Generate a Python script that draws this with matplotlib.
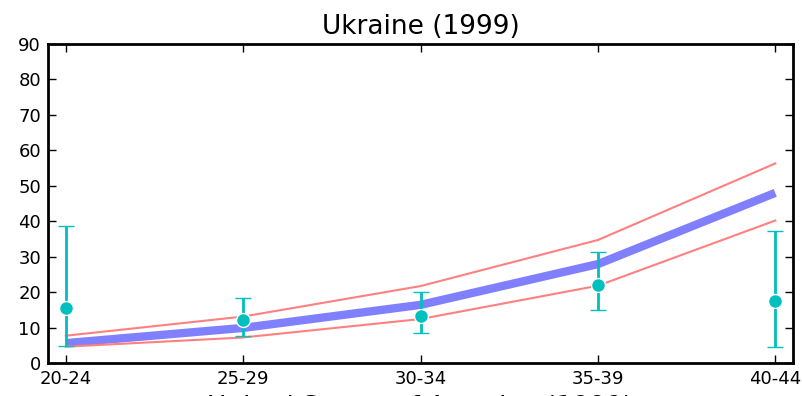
import numpy as np
import matplotlib
matplotlib.use("Agg")
import matplotlib.pyplot as plt

ages = ["20-24", "25-29", "30-34", "35-39", "40-44"]
model = [5.6, 9.9, 16.4, 27.9, 48.0]
model_hi = [7.7, 13.1, 21.7, 34.7, 56.3]
model_lo = [4.6, 7.2, 12.4, 21.8, 40.2]
obs = [15.4, 12.1, 13.3, 22.0, 17.6]
obs_hi = [38.7, 18.4, 20.0, 31.2, 37.3]
obs_lo = [4.8, 7.5, 8.5, 15.0, 4.5]

x = np.arange(len(ages))
obs = np.array(obs)
yerr = [obs - np.array(obs_lo), np.array(obs_hi) - obs]

fig = plt.figure(figsize=(8.03, 3.96), dpi=100)
ax = fig.add_axes([48/803, 1 - 363/396, 745/803, 319/396])

ax.plot(x, model, color='#8080ff', lw=6, solid_capstyle='butt', zorder=2)
ax.plot(x, model_hi, color='#ff8080', lw=1.5, zorder=2)
ax.plot(x, model_lo, color='#ff8080', lw=1.5, zorder=2)
ax.errorbar(x, obs, yerr=yerr, fmt='o', color='#00bfbf', ms=10, mec='white',
            mew=1, elinewidth=2, capsize=6, capthick=2, zorder=3)

ax.set_xlim(-0.1, 4.1)
ax.set_ylim(0, 90)
ax.set_yticks(np.arange(0, 91, 10))
ax.set_xticks(x)
ax.set_xticklabels(ages)
ax.tick_params(direction='in', length=6, width=1, top=True, right=True,
               labelsize=13, pad=5)
for s in ax.spines.values():
    s.set_linewidth(2)
ax.set_title('Ukraine (1999)', fontsize=19, pad=7)
ax.set_xlabel('United States of America (1999)', fontsize=19, labelpad=5)

fig.savefig('out.png', dpi=100)
